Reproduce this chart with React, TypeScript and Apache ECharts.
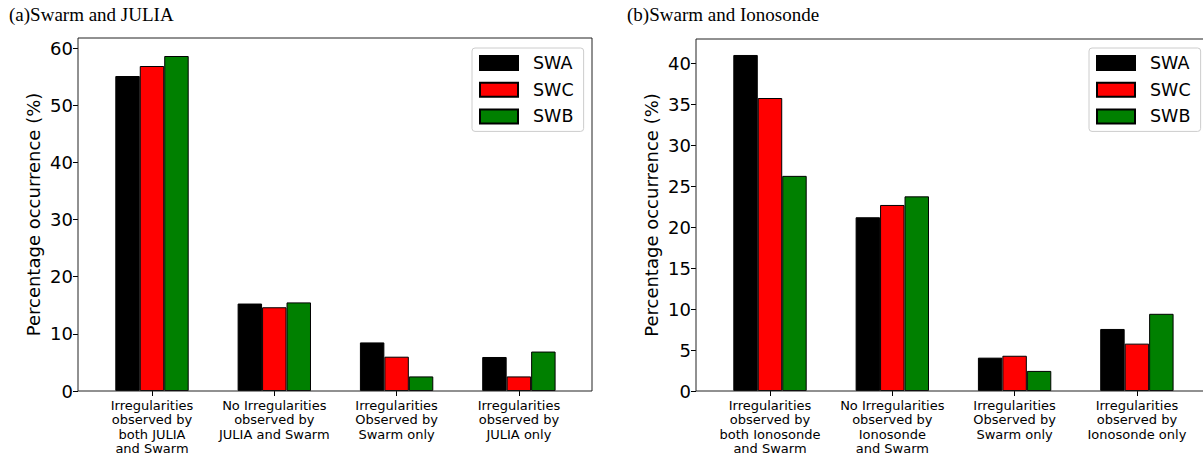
import React, { useEffect, useRef } from "react";
import * as echarts from "echarts";

const seriesNames = ["SWA", "SWC", "SWB"];
const seriesColors = ["#000000", "#ff0000", "#008000"];

const categoriesA = [
  "Irregularities\nobserved by\nboth JULIA\nand Swarm",
  "No Irregularities\nobserved by\nJULIA and Swarm",
  "Irregularities\nObserved by\nSwarm only",
  "Irregularities\nobserved by\nJULIA only",
];
const categoriesB = [
  "Irregularities\nobserved by\nboth Ionosonde\nand Swarm",
  "No Irregularities\nobserved by\nIonosonde\nand Swarm",
  "Irregularities\nObserved by\nSwarm only",
  "Irregularities\nobserved by\nIonosonde only",
];

const swaA = [55.1, 15.3, 8.5, 5.95];
const swcA = [56.85, 14.65, 6.0, 2.55];
const swbA = [58.6, 15.5, 2.55, 6.9];

const swaB = [41.0, 21.2, 4.07, 7.57];
const swcB = [35.75, 22.7, 4.3, 5.78];
const swbB = [26.25, 23.75, 2.45, 9.42];

const ticksA = [0, 10, 20, 30, 40, 50, 60];
const ticksB = [0, 5, 10, 15, 20, 25, 30, 35, 40];

const titleA = "(a)Swarm and JULIA";
const titleB = "(b)Swarm and Ionosonde";
const yName = "Percentage occurrence (%)";

export default function App() {
  const ref = useRef<HTMLDivElement>(null);
  useEffect(() => {
    if (!ref.current) return;
    const chart = echarts.init(ref.current, undefined, { renderer: "svg" });
    const band = 122.3;
    const gridW = band * 4;
    const panels = [
      { frameX: 78, frameY: 38, frameW: 514, frameH: 353, center0: 152, max: 61.75, ticks: ticksA, cats: categoriesA, data: [swaA, swcA, swbA], legendX: 472, title: titleA, titleX: 9 },
      { frameX: 696, frameY: 39, frameW: 520, frameH: 352, center0: 770, max: 42.95, ticks: ticksB, cats: categoriesB, data: [swaB, swcB, swbB], legendX: 1089, title: titleB, titleX: 627 },
    ];
    const grid: any[] = [];
    const xAxis: any[] = [];
    const yAxis: any[] = [];
    const series: any[] = [];
    const legend: any[] = [];
    const graphic: any[] = [];
    panels.forEach((p, i) => {
      const gl = p.center0 - band / 2;
      grid.push({ left: gl, top: p.frameY, width: gridW, height: p.frameH });
      xAxis.push({
        type: "category",
        gridIndex: i,
        data: p.cats,
        axisLine: { show: false },
        axisTick: { show: true, alignWithLabel: true, length: 5, lineStyle: { color: "#000", width: 1 } },
        axisLabel: { color: "#000", fontFamily: "DejaVu Sans", fontSize: 13, lineHeight: 14.5, margin: 7, interval: 0 },
      });
      yAxis.push({
        type: "value",
        gridIndex: i,
        min: 0,
        max: p.max,
        offset: gl - p.frameX,
        splitLine: { show: false },
        axisLine: { show: false },
        axisTick: { show: true, length: 5, customValues: p.ticks, lineStyle: { color: "#000", width: 1 } },
        axisLabel: { color: "#000", fontFamily: "DejaVu Sans", fontSize: 18, margin: 5, customValues: p.ticks },
        name: yName,
        nameLocation: "middle",
        nameGap: 36,
        nameTextStyle: { color: "#000", fontFamily: "DejaVu Sans", fontSize: 18 },
      });
      seriesNames.forEach((n, k) => {
        series.push({
          type: "bar",
          name: n,
          xAxisIndex: i,
          yAxisIndex: i,
          data: p.data[k],
          barWidth: band * 0.2,
          barGap: "0%",
          itemStyle: { color: seriesColors[k], borderColor: "#000", borderWidth: 1 },
        });
      });
      legend.push({
        data: seriesNames,
        left: p.legendX,
        top: 48,
        orient: "vertical",
        itemWidth: 38,
        itemHeight: 14,
        itemGap: 6.7,
        padding: [5, 10, 5, 7],
        backgroundColor: "rgba(255,255,255,0.8)",
        borderColor: "#cccccc",
        borderWidth: 1,
        borderRadius: 3,
        icon: "rect",
        textStyle: { color: "#000", fontFamily: "DejaVu Sans", fontSize: 17.5, lineHeight: 20, padding: [0, 0, 0, 10] },
        selectedMode: false,
      });
      graphic.push({
        type: "rect",
        shape: { x: p.frameX, y: p.frameY, width: p.frameW, height: p.frameH },
        style: { fill: "none", stroke: "#222", lineWidth: 1 },
        z: 100,
        silent: true,
      });
      graphic.push({
        type: "text",
        x: p.titleX,
        y: 14,
        style: { text: p.title, fill: "#000", font: "19px 'Liberation Serif'", textVerticalAlign: "middle" },
      });
    });
    chart.setOption({
      animation: false,
      backgroundColor: "#fff",
      grid,
      xAxis,
      yAxis,
      series,
      legend,
      graphic,
    });
    return () => chart.dispose();
  }, []);
  return <div ref={ref} style={{ position: "absolute", left: 0, top: 0, width: 1203, height: 456 }} />;
}
